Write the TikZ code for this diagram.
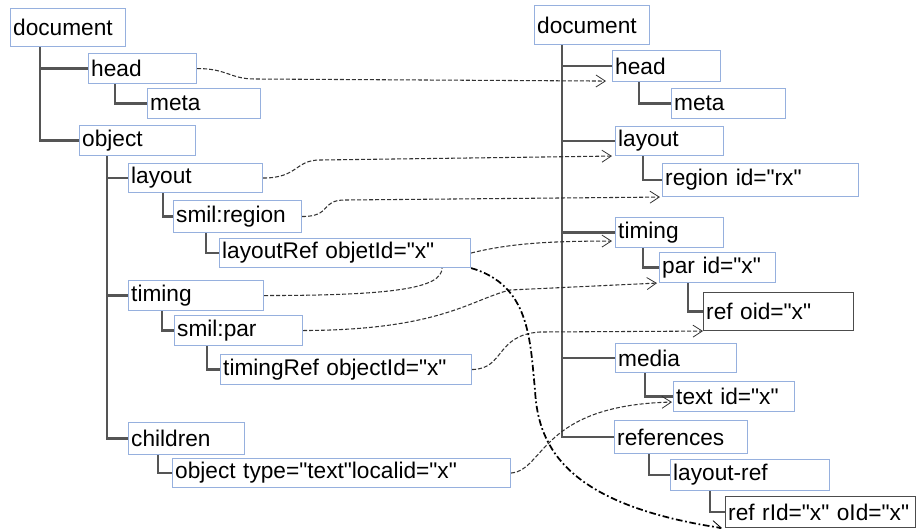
\documentclass[tikz,border=0pt]{standalone}
\usepackage{fontspec}
\setmainfont{Liberation Sans}[Ligatures=TeXOff]
\usetikzlibrary{arrows.meta,calc}

\definecolor{boxblue}{RGB}{150,176,222}
\definecolor{treegray}{RGB}{85,85,85}

\tikzset{
  box/.style={draw=boxblue, line width=0.8pt, anchor=north west, inner xsep=2pt, inner ysep=0pt,
    align=left, font=\fontsize{17}{19}\selectfont},
  darkbox/.style={box, draw=black!70},
  tree/.style={draw=treegray, line width=1.8pt},
  link/.style={draw=black!80, line width=0.8pt, dash pattern=on 3pt off 1.5pt,
    -{Straight Barb[length=7pt,width=9pt,line width=0.6pt]}},
  linknt/.style={draw=black!80, line width=0.8pt, dash pattern=on 3pt off 1.5pt},
  refline/.style={draw=black, line width=1.3pt, dash pattern=on 5pt off 2pt on 1.3pt off 2pt,
    -{Straight Barb[length=7pt,width=9pt,line width=0.6pt]}}
}

\begin{document}
\begin{tikzpicture}[x=0.75pt,y=0.75pt,yscale=-1,xscale=1]
\useasboundingbox (0,0) rectangle (916,528);

% Left tree
\node[box, text width=82.25pt, minimum height=28.5pt] (ldoc) at (10,8) {document};
\node[box, text width=77pt, minimum height=22.5pt] (lhead) at (88,53) {head};
\node[box, text width=80.75pt, minimum height=22.5pt] (lmeta) at (147,88) {meta};
\node[box, text width=83pt, minimum height=22.5pt] (lobj) at (79,125) {object};
\node[box, text width=96.5pt, minimum height=21.75pt] (llay) at (128,163) {layout};
\node[box, text width=92pt, minimum height=24pt] (lreg) at (173,200) {smil:region};
\node[box, text width=184.25pt, minimum height=21.75pt] (llref) at (219,238) {layoutRef objetId="x"};
\node[box, text width=97.25pt, minimum height=22.5pt] (ltim) at (128,280) {timing};
\node[box, text width=92pt, minimum height=22.5pt] (lpar) at (174,315) {smil:par};
\node[box, text width=184.25pt, minimum height=22.5pt] (ltref) at (220,354) {timingRef objectId="x"};
\node[box, text width=83pt, minimum height=24pt] (lchild) at (128,422) {children};
\node[box, text width=249.5pt, minimum height=21.75pt] (lobjt) at (172,458) {object type="text"localid="x"};

% Right tree
\node[box, text width=82.25pt, minimum height=29.25pt] (rdoc) at (534,5) {document};
\node[box, text width=77pt, minimum height=23.25pt] (rhead) at (612,50) {head};
\node[box, text width=81.5pt, minimum height=22.5pt] (rmeta) at (671,88) {meta};
\node[box, text width=77pt, minimum height=21.75pt] (rlay) at (615,126) {layout};
\node[box, text width=143pt, minimum height=24.75pt] (rreg) at (662,163) {region id="rx"};
\node[box, text width=77pt, minimum height=22.5pt] (rtim) at (615,217) {timing};
\node[box, text width=83pt, minimum height=22.5pt] (rpar) at (659,252) {par id="x"};
\node[darkbox, text width=108.5pt, minimum height=28.5pt] (rref) at (703,292) {ref oid="x"};
\node[box, text width=86.75pt, minimum height=21.75pt] (rmedia) at (615,343) {media};
\node[box, text width=86.75pt, minimum height=22.5pt] (rtext) at (673,381) {text id="x"};
\node[box, text width=95.75pt, minimum height=24.75pt] (rrefs) at (614,420) {references};
\node[box, text width=115.25pt, minimum height=23.25pt] (rlref) at (670,459) {layout-ref};
\node[darkbox, text width=138.5pt, minimum height=23.25pt] (rrid) at (725,496) {ref rId="x" oId="x"};

% Tree lines, left
\draw[tree] (ldoc.south west) ++(30,0) |- (lhead.west);
\draw[tree] (ldoc.south west) ++(30,0) |- (lobj.west);
\draw[tree] (lhead.south west) ++(27,0) |- (lmeta.west);
\draw[tree] (lobj.south west) ++(28,0) |- (llay.west);
\draw[tree] (lobj.south west) ++(28,0) |- (ltim.west);
\draw[tree] (lobj.south west) ++(28,0) |- (lchild.west);
\draw[tree] (llay.south west) ++(35,0) |- (lreg.west);
\draw[tree] (lreg.south west) ++(33,0) |- (llref.west);
\draw[tree] (ltim.south west) ++(34,0) |- (lpar.west);
\draw[tree] (lpar.south west) ++(33,0) |- (ltref.west);
\draw[tree] (lchild.south west) ++(30,0) |- (lobjt.west);

% Tree lines, right
\draw[tree] (rdoc.south west) ++(28,0) |- (rhead.west);
\draw[tree] (rdoc.south west) ++(28,0) |- (rlay.west);
\draw[tree] (rdoc.south west) ++(28,0) |- (rtim.west);
\draw[tree] (rdoc.south west) ++(28,0) |- (rmedia.west);
\draw[tree] (rdoc.south west) ++(28,0) |- (rrefs.west);
\draw[tree] (rhead.south west) ++(27,0) |- (rmeta.west);
\draw[tree] (rlay.south west) ++(28,0) |- (rreg.west);
\draw[tree] (rtim.south west) ++(28,0) |- (rpar.west);
\draw[tree] (rpar.south west) ++(29,0) |- (rref.west);
\draw[tree] (rmedia.south west) ++(30,0) |- (rtext.west);
\draw[tree] (rrefs.south west) ++(35,0) |- (rlref.west);
\draw[tree] (rlref.south west) ++(40,0) |- (rrid.west);

% Mapping links
\draw[link] (lhead.east) .. controls +(30,0) and +(-25,0) .. (255,79) -- ($(rhead.south west)+(-6,-1)$);
\draw[link] (llay.east) .. controls +(35,0) and +(-25,0) .. (320,160) -- ($(rlay.south west)+(-3,0)$);
\draw[link] (lreg.east) .. controls +(30,0) and +(-25,0) .. (345,200) -- ($(rreg.south west)+(-2,0)$);
\draw[link] (llref.east) .. controls +(40,-10) and +(-60,0) .. ($(rtim.south west)+(-3,-7)$);
\draw[linknt] (ltim.east) .. controls +(130,0) and +(0,20) .. ($(llref.south west)+(223,0)$);
\draw[link] (lpar.east) .. controls (440,330) and (470,300) .. (510,290) -- ($(rpar.south west)+(-2,0)$);
\draw[link] (ltref.east) .. controls (505,369) and (495,335) .. (540,332) -- (rref.south west);
\draw[link] (lobjt.east) .. controls (545,470) and (540,405) .. ($(rtext.south west)+(-1,-10)$);
\draw[refline] (llref.south east) .. controls (530,285) and (530,340) .. (535,390)
  .. controls (538,450) and (570,505) .. ($(rrid.south west)+(-3,0)$);

\end{tikzpicture}
\end{document}
